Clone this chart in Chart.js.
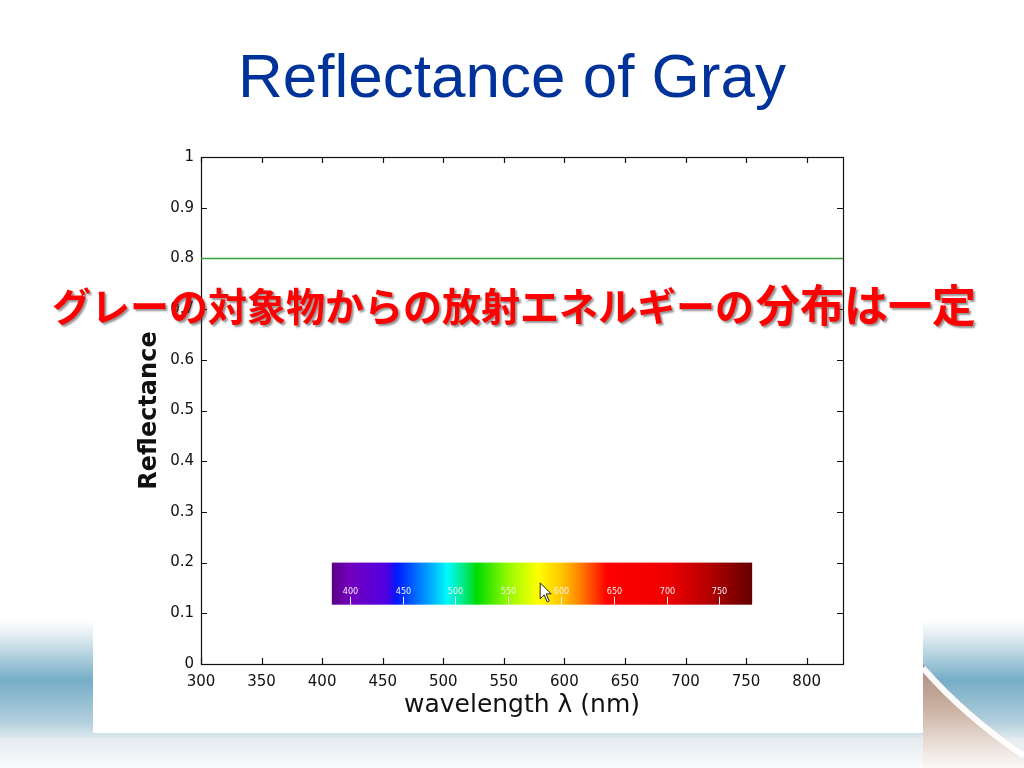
<!DOCTYPE html>
<html>
<head>
    <title>Reflectance of Gray</title>
    <script src="https://cdn.jsdelivr.net/npm/chart.js"></script>
    <style>
        html, body { margin: 0; padding: 0; background: #fff; }
        canvas { display: block; }
    </style>
</head>
<body>
    <canvas id="myChart" width="1024" height="768"></canvas>
    <script>
        // data
        const wavelengths = [300, 830];          // nm
        const reflectance = [0.8, 0.8];          // flat gray reflectance
        const xTicks = [300, 350, 400, 450, 500, 550, 600, 650, 700, 750, 800];
        const yTicks = [0, 0.1, 0.2, 0.3, 0.4, 0.5, 0.6, 0.7, 0.8, 0.9, 1];

        // spectrum strip drawn in the plot (an inset picture in the original)
        const spectrumBarX = [408, 755];         // main axis range covered by the strip
        const spectrumBarY = [0.117, 0.2];       // reflectance range covered by the strip
        const spectrumSpan = [383, 781];         // strip's own wavelength scale at its ends
        const spectrumLabels = [400, 450, 500, 550, 600, 650, 700, 750];
        const cursorAt = [580, 0.16];

        const titleText = 'Reflectance of Gray';
        const noteText = ['グレーの対象物からの放射エネルギーの', '分布は一定'];

        // slide background, white panel
        const slideBackground = {
            id: 'slideBackground',
            beforeDraw(chart) {
                const ctx = chart.ctx;
                ctx.save();
                ctx.fillStyle = '#fff';
                ctx.fillRect(0, 0, 1024, 768);

                let g = ctx.createLinearGradient(0, 620, 0, 740);
                g.addColorStop(0, 'rgba(255,255,255,1)');
                g.addColorStop(0.15, 'rgb(222,234,240)');
                g.addColorStop(0.5, 'rgb(118,173,198)');
                g.addColorStop(0.85, 'rgb(178,207,221)');
                g.addColorStop(1, 'rgb(226,235,240)');
                ctx.fillStyle = g;
                ctx.fillRect(0, 620, 1024, 120);

                g = ctx.createLinearGradient(0, 738, 0, 768);
                g.addColorStop(0, 'rgb(228,235,240)');
                g.addColorStop(1, 'rgb(250,251,252)');
                ctx.fillStyle = g;
                ctx.fillRect(0, 738, 1024, 30);

                // brown swoosh on the right
                ctx.beginPath();
                ctx.moveTo(923, 664);
                ctx.quadraticCurveTo(965, 712, 1024, 752);
                ctx.lineTo(1024, 768);
                ctx.lineTo(923, 768);
                ctx.closePath();
                g = ctx.createLinearGradient(0, 664, 0, 768);
                g.addColorStop(0, 'rgb(170,140,125)');
                g.addColorStop(0.45, 'rgb(205,180,165)');
                g.addColorStop(0.8, 'rgb(236,226,220)');
                g.addColorStop(1, 'rgb(250,248,246)');
                ctx.fillStyle = g;
                ctx.fill();

                ctx.beginPath();
                ctx.moveTo(923, 668);
                ctx.quadraticCurveTo(965, 716, 1024, 756);
                ctx.strokeStyle = 'rgba(255,255,255,0.95)';
                ctx.lineWidth = 6;
                ctx.stroke();

                ctx.fillStyle = '#fff';
                ctx.fillRect(93, 135, 830, 598);
                ctx.restore();
            }
        };

        // matlab style frame with inward ticks, plus the spectrum strip
        const axesFrame = {
            id: 'axesFrame',
            beforeDatasetsDraw(chart) {
                const ctx = chart.ctx;
                const a = chart.chartArea;
                const xs = chart.scales.x, ys = chart.scales.y;
                ctx.save();

                // spectrum strip
                const bx0 = xs.getPixelForValue(spectrumBarX[0]);
                const bx1 = xs.getPixelForValue(spectrumBarX[1]);
                const by0 = ys.getPixelForValue(spectrumBarY[1]);
                const by1 = ys.getPixelForValue(spectrumBarY[0]);
                const g = ctx.createLinearGradient(bx0, 0, bx1, 0);
                [[0, 'rgb(92,0,132)'], [0.043, 'rgb(115,0,190)'], [0.13, 'rgb(80,0,225)'],
                 [0.155, 'rgb(0,25,255)'], [0.235, 'rgb(0,170,255)'], [0.275, 'rgb(0,250,250)'],
                 [0.32, 'rgb(0,230,110)'], [0.345, 'rgb(0,220,0)'], [0.42, 'rgb(150,250,0)'],
                 [0.49, 'rgb(255,255,0)'], [0.545, 'rgb(255,200,0)'], [0.59, 'rgb(255,130,0)'],
                 [0.655, 'rgb(255,0,0)'], [0.8, 'rgb(238,0,0)'], [0.89, 'rgb(185,0,0)'],
                 [1, 'rgb(100,0,0)']].forEach(s => g.addColorStop(s[0], s[1]));
                ctx.fillStyle = g;
                ctx.fillRect(bx0, by0, bx1 - bx0, by1 - by0);

                ctx.font = '9px "DejaVu Sans Condensed", "DejaVu Sans"';
                ctx.textAlign = 'center';
                ctx.textBaseline = 'middle';
                ctx.fillStyle = '#f2f2f2';
                ctx.strokeStyle = '#f2f2f2';
                ctx.lineWidth = 1;
                spectrumLabels.forEach(w => {
                    const f = (w - spectrumSpan[0]) / (spectrumSpan[1] - spectrumSpan[0]);
                    const px = Math.round(bx0 + f * (bx1 - bx0)) + 0.5;
                    ctx.fillText(String(w), px, by0 + 29);
                    ctx.beginPath();
                    ctx.moveTo(px, by1 - 8);
                    ctx.lineTo(px, by1);
                    ctx.stroke();
                });

                // mouse cursor sitting on the strip
                const cx = xs.getPixelForValue(cursorAt[0]);
                const cy = ys.getPixelForValue(cursorAt[1]);
                ctx.beginPath();
                ctx.moveTo(cx, cy);
                ctx.lineTo(cx, cy + 16);
                ctx.lineTo(cx + 4, cy + 12);
                ctx.lineTo(cx + 7, cy + 19);
                ctx.lineTo(cx + 9, cy + 18);
                ctx.lineTo(cx + 6, cy + 11);
                ctx.lineTo(cx + 11, cy + 11);
                ctx.closePath();
                ctx.fillStyle = '#fff';
                ctx.fill();
                ctx.strokeStyle = '#222';
                ctx.stroke();

                // frame
                ctx.strokeStyle = '#111';
                ctx.lineWidth = 1.2;
                ctx.strokeRect(Math.round(a.left) + 0.5, Math.round(a.top) + 0.5,
                    Math.round(a.right - a.left), Math.round(a.bottom - a.top));

                // inward ticks on all four sides
                const tl = 6;
                ctx.beginPath();
                xTicks.forEach(v => {
                    const px = Math.round(xs.getPixelForValue(v)) + 0.5;
                    ctx.moveTo(px, a.bottom); ctx.lineTo(px, a.bottom - tl);
                    ctx.moveTo(px, a.top); ctx.lineTo(px, a.top + tl);
                });
                yTicks.forEach(v => {
                    const py = Math.round(ys.getPixelForValue(v)) + 0.5;
                    ctx.moveTo(a.left, py); ctx.lineTo(a.left + tl, py);
                    ctx.moveTo(a.right, py); ctx.lineTo(a.right - tl, py);
                });
                ctx.stroke();
                ctx.restore();
            }
        };

        // slide title and red caption on top of everything
        const slideText = {
            id: 'slideText',
            afterDraw(chart) {
                const ctx = chart.ctx;
                ctx.save();
                ctx.font = '62px "Liberation Sans", Arial, sans-serif';
                ctx.fillStyle = 'rgb(0,51,153)';
                ctx.textAlign = 'center';
                ctx.textBaseline = 'alphabetic';
                ctx.fillText(titleText, 512, 97);

                ctx.textAlign = 'left';
                ctx.textBaseline = 'middle';
                ctx.shadowColor = 'rgba(60,60,60,0.55)';
                ctx.shadowOffsetX = 2;
                ctx.shadowOffsetY = 2;
                ctx.shadowBlur = 2;
                ctx.fillStyle = '#ff0000';
                ctx.font = 'bold 39px "Noto Sans CJK JP"';
                ctx.fillText(noteText[0], 52, 306);
                const w0 = ctx.measureText(noteText[0]).width;
                ctx.font = 'bold 44px "Noto Sans CJK JP"';
                ctx.fillText(noteText[1], 52 + w0 + 2, 305);
                ctx.restore();
            }
        };

        const ctx = document.getElementById('myChart').getContext('2d');
        const chart = new Chart(ctx, {
            type: 'line',
            data: {
                datasets: [{
                    label: 'Gray',
                    data: wavelengths.map((w, i) => ({ x: w, y: reflectance[i] })),
                    borderColor: '#3a9e3a',
                    borderWidth: 1.5,
                    pointRadius: 0,
                    fill: false
                }]
            },
            options: {
                responsive: false,
                animation: false,
                devicePixelRatio: 1,
                layout: { padding: { left: 135, top: 157, right: 181, bottom: 48 } },
                plugins: {
                    legend: { display: false },
                    tooltip: { enabled: false }
                },
                scales: {
                    x: {
                        type: 'linear',
                        min: 300,
                        max: 830,
                        grid: { display: false, drawTicks: false },
                        border: { display: false },
                        afterBuildTicks: s => { s.ticks = xTicks.map(v => ({ value: v })); },
                        afterFit: s => { s.height = 56; },
                        ticks: {
                            autoSkip: false,
                            maxRotation: 0,
                            padding: 9,
                            color: '#111',
                            font: { family: 'DejaVu Sans', size: 15 }
                        },
                        title: {
                            display: true,
                            text: 'wavelength λ (nm)',
                            color: '#111',
                            padding: 0,
                            font: { family: 'DejaVu Sans', size: 25 }
                        }
                    },
                    y: {
                        min: 0,
                        max: 1,
                        grid: { display: false, drawTicks: false },
                        border: { display: false },
                        afterBuildTicks: s => { s.ticks = yTicks.map(v => ({ value: v })); },
                        afterFit: s => { s.width = 66; },
                        ticks: {
                            padding: 7,
                            color: '#111',
                            font: { family: 'DejaVu Sans', size: 15 },
                            callback: v => String(Math.round(v * 10) / 10)
                        },
                        title: {
                            display: true,
                            text: 'Reflectance',
                            color: '#111',
                            padding: 0,
                            font: { family: 'DejaVu Sans', size: 24, weight: 'bold' }
                        }
                    }
                }
            },
            plugins: [slideBackground, axesFrame, slideText]
        });
    </script>
</body>
</html>
